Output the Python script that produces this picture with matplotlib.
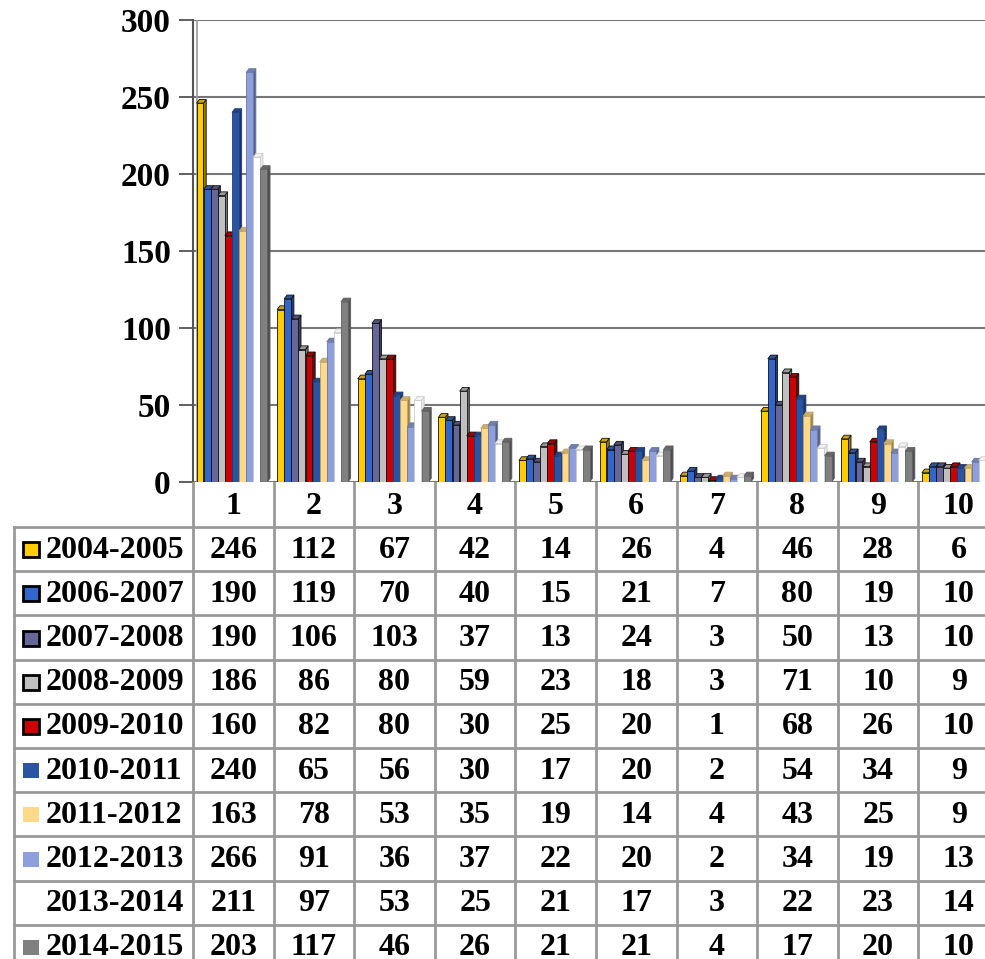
import numpy as np
import matplotlib
matplotlib.use("Agg")
from matplotlib import pyplot as plt
from matplotlib import colors as mcolors

plt.rcParams['font.family'] = ['Liberation Serif', 'DejaVu Serif']
plt.rcParams['font.weight'] = 'bold'

categories = ['1', '2', '3', '4', '5', '6', '7', '8', '9', '10']
series = ['2004-2005', '2006-2007', '2007-2008', '2008-2009', '2009-2010',
          '2010-2011', '2011-2012', '2012-2013', '2013-2014', '2014-2015']
values = [
    [246, 112, 67, 42, 14, 26, 4, 46, 28, 6],
    [190, 119, 70, 40, 15, 21, 7, 80, 19, 10],
    [190, 106, 103, 37, 13, 24, 3, 50, 13, 10],
    [186, 86, 80, 59, 23, 18, 3, 71, 10, 9],
    [160, 82, 80, 30, 25, 20, 1, 68, 26, 10],
    [240, 65, 56, 30, 17, 20, 2, 54, 34, 9],
    [163, 78, 53, 35, 19, 14, 4, 43, 25, 9],
    [266, 91, 36, 37, 22, 20, 2, 34, 19, 13],
    [211, 97, 53, 25, 21, 17, 3, 22, 23, 14],
    [203, 117, 46, 26, 21, 21, 4, 17, 20, 10],
]
bar_colors = ['#FFCC00', '#3366CC', '#666699', '#C0C0C0', '#CC0000',
              '#2A54A2', '#FFD98A', '#8EA0DC', '#FFFFFF', '#808080']
outlined = [True, True, True, True, True, False, False, False, False, False]
yticks = [0, 50, 100, 150, 200, 250, 300]

W, H = 985, 959
fig = plt.figure(figsize=(W / 100, H / 100), dpi=100)

x_axis_px, base_px, top_px, cat_px = 193, 482, 20, 80.6
xmin = -0.5
xmax = xmin + (W - x_axis_px) / cat_px

ax = fig.add_axes([x_axis_px / W, (H - base_px) / H,
                   (W - x_axis_px) / W, (base_px - top_px) / H])
ax.set_xlim(xmin, xmax)
ax.set_ylim(0, 300)
for s in ['top', 'right', 'bottom']:
    ax.spines[s].set_visible(False)
ax.spines['left'].set_color('#555555')
ax.spines['left'].set_linewidth(1.5)
ax.set_xticks([])
ax.set_yticks(yticks)
ax.set_yticklabels([str(t) for t in yticks], fontsize=24, fontweight='bold')
ax.tick_params(axis='y', length=10, width=1.2, color='#444444', pad=6)
for t in yticks:
    ax.axhline(t, color='#777777', lw=1.5, zorder=0)
ax.axvline(xmin + 0.05, color='#999999', lw=1.2, zorder=0)


def shade(c, f):
    r, g, b = mcolors.to_rgb(c)
    return (r * f, g * f, b * f)


pitch, w, dx, dy = 0.088, 0.086, 0.034, 2.4
x = np.arange(len(categories))
for k in range(len(categories)):
    for i, name in enumerate(series):
        v = values[i][k]
        x0 = x[k] + (i - 4.5) * pitch - w / 2 - dx / 2
        fc = bar_colors[i]
        if outlined[i]:
            ec = '#111111'
        elif fc == '#FFFFFF':
            ec = '#CCCCCC'
        else:
            ec = shade(fc, 0.75)
        side = shade(fc, 0.6) if fc != '#FFFFFF' else '#E8E8E8'
        topc = shade(fc, 0.8) if fc != '#FFFFFF' else '#F2F2F2'
        ax.fill([x0 + w, x0 + w + dx, x0 + w + dx, x0 + w],
                [0, dy, v + dy, v], color=side, ec=ec, lw=0.6, zorder=3)
        ax.fill([x0, x0 + w, x0 + w + dx, x0 + dx],
                [v, v, v + dy, v + dy], color=topc, ec=ec, lw=0.6, zorder=3)
        ax.bar(x0, v, width=w, align='edge', color=fc, edgecolor=ec,
               linewidth=0.6, zorder=3)

# data table below the plot
tb = fig.add_axes([0, 0, 1, (H - base_px) / H])
tb.set_xlim(xmin - x_axis_px / cat_px, xmax)
tb.set_ylim(H - base_px, 0)
tb.axis('off')


def px(p):
    return xmin - (x_axis_px - p) / cat_px


head_h, row_h = 45, 44.2
row_edges = [head_h + r * row_h for r in range(len(series) + 1)]
line_c = '#999999'
for r, ye in enumerate(row_edges):
    tb.plot([px(14), xmax], [ye, ye], color=line_c, lw=2, clip_on=False)
tb.plot([px(14), px(14)], [row_edges[0], H], color=line_c, lw=2)
for k in range(len(categories) + 1):
    tb.plot([k - 0.5, k - 0.5], [0, H], color=line_c, lw=2)

for k, c in enumerate(categories):
    tb.text(x[k], head_h / 2 + 2, c, ha='center', va='center',
            fontsize=23, fontweight='bold')

for i, name in enumerate(series):
    yc = row_edges[i] + row_h / 2
    if bar_colors[i] != '#FFFFFF':
        tb.add_patch(plt.Rectangle((px(23), yc - 7), px(39) - px(23), 15,
                                   facecolor=bar_colors[i],
                                   edgecolor='black' if outlined[i] else 'none',
                                   lw=2))
    tb.text(px(46), yc + 1, name, ha='left', va='center',
            fontsize=23, fontweight='bold')
    for k in range(len(categories)):
        tb.text(x[k], yc + 1, str(values[i][k]), ha='center', va='center',
                fontsize=23, fontweight='bold')

fig.savefig('out.png', dpi=100)
